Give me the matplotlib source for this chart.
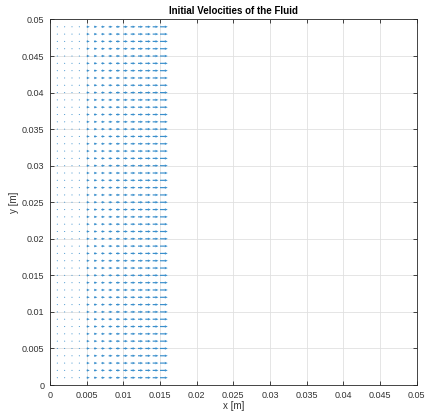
import matplotlib
matplotlib.use("Agg")
import matplotlib.pyplot as plt
import numpy as np

plt.rcParams['font.family'] = ['Liberation Sans', 'DejaVu Sans']

# grid positions (m)
x_pos = [0.001, 0.002, 0.003, 0.004, 0.005, 0.006, 0.007, 0.008, 0.009, 0.010,
         0.011, 0.012, 0.013, 0.014, 0.015]
y_pos = [0.001 * k for k in range(1, 50)]
# horizontal velocity per column (scaled arrow length, m)
u_col = [0.00010, 0.00010, 0.00012, 0.00015, 0.00042, 0.00046, 0.00050, 0.00054,
         0.00058, 0.00062, 0.00066, 0.00070, 0.00074, 0.00078, 0.00105]
v_col = [0.0] * len(x_pos)

title = "Initial Velocities of the Fluid"
xlabel = "x [m]"
ylabel = "y [m]"
ticks = [0, 0.005, 0.01, 0.015, 0.02, 0.025, 0.03, 0.035, 0.04, 0.045, 0.05]
tick_labels = ["0", "0.005", "0.01", "0.015", "0.02", "0.025", "0.03", "0.035", "0.04", "0.045", "0.05"]

X, Y = np.meshgrid(x_pos, y_pos)
U = np.tile(u_col, (len(y_pos), 1))
V = np.tile(v_col, (len(y_pos), 1))

fig = plt.figure(figsize=(4.28, 4.19), dpi=100)
ax = fig.add_axes([0.1168, 0.0811, 0.8568, 0.8724])

ax.quiver(X, Y, U, V, angles='xy', scale_units='xy', scale=1, color='#3a8fcc',
          width=0.0032, headwidth=2.2, headlength=2.5, headaxislength=2.3)

ax.set_xlim(0, 0.05)
ax.set_ylim(0, 0.05)
ax.set_xticks(ticks)
ax.set_xticklabels(tick_labels)
ax.set_yticks(ticks)
ax.set_yticklabels(tick_labels)
ax.grid(True, color='#e0e0e0', linewidth=0.6)
ax.set_axisbelow(True)
ax.tick_params(direction='in', length=3, width=0.6, top=True, right=True,
               labelsize=6.5, colors='#262626', labelcolor='#333333', pad=4)
for s in ax.spines.values():
    s.set_linewidth(0.6)
    s.set_color('#262626')
ax.set_title(title, fontsize=7, fontweight='bold', pad=4)
ax.set_xlabel(xlabel, fontsize=7, labelpad=1, color='#333333')
ax.set_ylabel(ylabel, fontsize=7, labelpad=2, color='#333333')

fig.savefig("out.png", dpi=100)
